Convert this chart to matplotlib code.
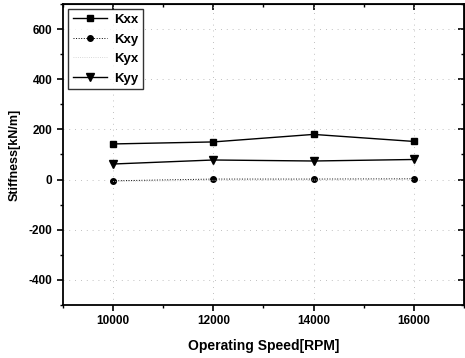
import matplotlib
matplotlib.use("Agg")
import matplotlib.pyplot as plt
from matplotlib.ticker import MultipleLocator

plt.rcParams['font.family'] = ['Liberation Sans', 'DejaVu Sans']
plt.rcParams['axes.unicode_minus'] = False

speeds = [10000, 12000, 14000, 16000]
kxx = [142, 150, 180, 152]
kxy = [-5, 2, 2, 3]
kyx = [-8, -3, -2, 0]
kyy = [62, 78, 74, 80]

fig = plt.figure(figsize=(4.65, 3.58), dpi=100)
ax = fig.add_axes([0.1355, 0.148, 0.862, 0.841])

ax.plot(speeds, kxx, '-', color='black', lw=1.0, marker='s', ms=5, label='Kxx')
ax.plot(speeds, kxy, ':', color='black', lw=0.7, marker='o', ms=4, label='Kxy')
ax.plot(speeds, kyx, ':', color='#cccccc', lw=0.6, label='Kyx')
ax.plot(speeds, kyy, '-', color='black', lw=1.0, marker='v', ms=6, label='Kyy')

ax.set_xlim(9000, 17000)
ax.set_ylim(-500, 700)
ax.set_xticks([10000, 12000, 14000, 16000])
ax.set_yticks([-400, -200, 0, 200, 400, 600])
ax.xaxis.set_minor_locator(MultipleLocator(1000))
ax.yaxis.set_minor_locator(MultipleLocator(100))
ax.grid(True, which='major', ls=(0, (1, 6)), color='#aaaaaa', lw=0.6)

ax.tick_params(axis='both', which='major', direction='out', length=4, width=1.2,
               labelsize=8.5)
ax.tick_params(axis='both', which='minor', direction='out', length=2.5, width=1.0)
for lab in ax.get_xticklabels() + ax.get_yticklabels():
    lab.set_fontweight('bold')
for s in ax.spines.values():
    s.set_linewidth(1.3)

# inward ticks on top and right
top = ax.secondary_xaxis('top')
top.set_xticks([10000, 12000, 14000, 16000])
top.xaxis.set_minor_locator(MultipleLocator(1000))
top.tick_params(which='major', direction='in', length=4, width=1.2, labeltop=False)
top.tick_params(which='minor', direction='in', length=2.5, width=1.0)
right = ax.secondary_yaxis('right')
right.set_yticks([-400, -200, 0, 200, 400, 600])
right.yaxis.set_minor_locator(MultipleLocator(100))
right.tick_params(which='major', direction='in', length=4, width=1.2, labelright=False)
right.tick_params(which='minor', direction='in', length=2.5, width=1.0)

ax.set_xlabel('Operating Speed[RPM]', fontsize=10, fontweight='bold', labelpad=8)
ax.set_ylabel('Stiffness[kN/m]', fontsize=9, fontweight='bold', labelpad=6)

leg = ax.legend(loc='upper left', frameon=True, fancybox=False, edgecolor='black',
                prop={'weight': 'bold', 'size': 9.5}, handlelength=2.6,
                borderaxespad=0.4, labelspacing=0.55, borderpad=0.35,
                handletextpad=0.5)
leg.get_frame().set_linewidth(1.0)

fig.savefig('out.png', dpi=100)
